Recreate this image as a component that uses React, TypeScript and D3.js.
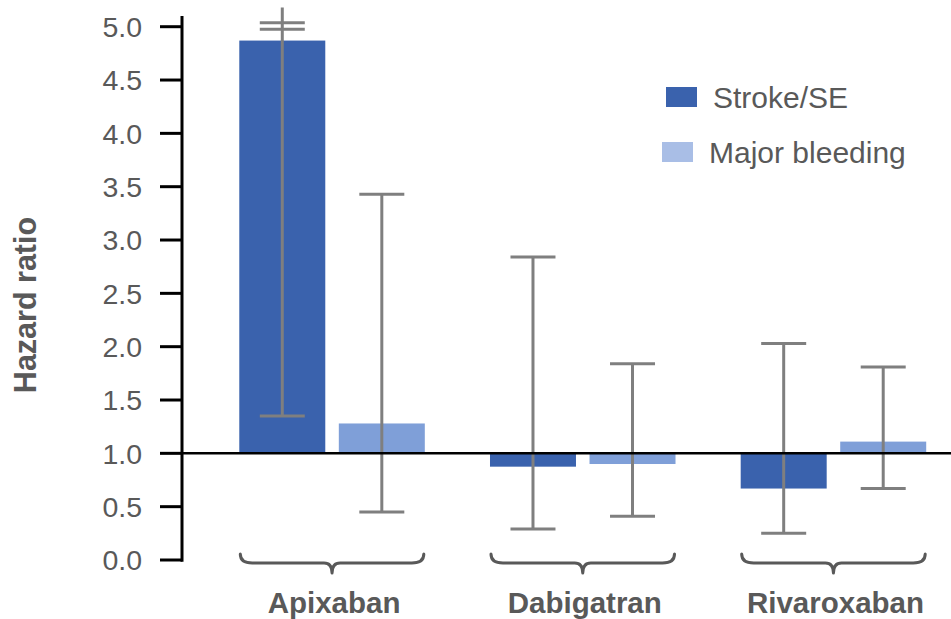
import React from "react";
import * as d3 from "d3";

const categories = ["Apixaban", "Dabigatran", "Rivaroxaban"];
const seriesNames = ["Stroke/SE", "Major bleeding"];
const strokeHR = [4.87, 0.875, 0.67];
const strokeLo = [1.35, 0.29, 0.25];
const strokeHi = [5.18, 2.84, 2.03];
const bleedHR = [1.28, 0.9, 1.11];
const bleedLo = [0.45, 0.41, 0.67];
const bleedHi = [3.43, 1.84, 1.81];
const truncatedHi = [true, false, false, false, false, false];
const yTicks = [0, 0.5, 1, 1.5, 2, 2.5, 3, 3.5, 4, 4.5, 5];
const reference = 1;
const breakAt = 5;

const W = 951;
const H = 619;
const barColors = ["#3a62ad", "#7f9fd8"];
const legendColors = ["#3a62ad", "#a9bee6"];
const textColor = "#595959";
const errColor = "#7f7f7f";
const font = "Arial, 'Liberation Sans', sans-serif";

export default function App() {
  const y = d3.scaleLinear().domain([0, 5]).range([560, 26.7]);
  const x0 = d3
    .scaleBand<string>()
    .domain(categories)
    .range([206.7, 958.8])
    .paddingInner(0.26)
    .paddingOuter(0.13);
  const x1 = d3
    .scaleBand<string>()
    .domain(seriesNames)
    .range([0, x0.bandwidth()])
    .paddingInner(0.136);

  const axisX = 182;
  const rows: { cat: string; s: string; hr: number; lo: number; hi: number; trunc: boolean; color: string }[] = [];
  categories.forEach((c, i) => {
    rows.push({ cat: c, s: seriesNames[0], hr: strokeHR[i], lo: strokeLo[i], hi: strokeHi[i], trunc: truncatedHi[i * 2], color: barColors[0] });
    rows.push({ cat: c, s: seriesNames[1], hr: bleedHR[i], lo: bleedLo[i], hi: bleedHi[i], trunc: truncatedHi[i * 2 + 1], color: barColors[1] });
  });
  const capHalf = 22.5;

  return (
    <svg width={W} height={H} style={{ position: "absolute", left: 0, top: 0, background: "#fff" }} fontFamily={font}>
      {/* bars */}
      {rows.map((r, i) => {
        const bx = (x0(r.cat) || 0) + (x1(r.s) || 0);
        const y1 = y(Math.max(r.hr, reference));
        const y2 = y(Math.min(r.hr, reference));
        return <rect key={"b" + i} x={bx} y={y1} width={x1.bandwidth()} height={y2 - y1} fill={r.color} />;
      })}
      {/* error bars */}
      {rows.map((r, i) => {
        const cx = (x0(r.cat) || 0) + (x1(r.s) || 0) + x1.bandwidth() / 2;
        return (
          <g key={"e" + i} stroke={errColor} strokeWidth={3}>
            <line x1={cx} x2={cx} y1={y(r.lo)} y2={y(r.hi)} />
            <line x1={cx - capHalf} x2={cx + capHalf} y1={y(r.lo)} y2={y(r.lo)} />
            {r.trunc ? (
              <>
                <line x1={cx - capHalf} x2={cx + capHalf} y1={y(breakAt) - 4} y2={y(breakAt) - 4} />
                <line x1={cx - capHalf} x2={cx + capHalf} y1={y(breakAt) + 2.6} y2={y(breakAt) + 2.6} />
              </>
            ) : (
              <line x1={cx - capHalf} x2={cx + capHalf} y1={y(r.hi)} y2={y(r.hi)} />
            )}
          </g>
        );
      })}
      {/* reference line */}
      <line x1={axisX} x2={W} y1={y(reference)} y2={y(reference)} stroke="#000" strokeWidth={2.5} />
      {/* y axis */}
      <line x1={axisX} x2={axisX} y1={y(0) + 1.7} y2={y(5.1)} stroke="#000" strokeWidth={3} />
      {yTicks.map((t) => (
        <g key={"t" + t}>
          <line x1={axisX - 22} x2={axisX} y1={y(t)} y2={y(t)} stroke="#000" strokeWidth={3} />
          <text x={axisX - 40} y={y(t)} dy="0.36em" textAnchor="end" fontSize={28.5} fill={textColor}>
            {d3.format(".1f")(t)}
          </text>
        </g>
      ))}
      <text
        transform={`translate(36,${305}) rotate(-90)`}
        textAnchor="middle"
        fontSize={30.5}
        fontWeight="bold"
        fill={textColor}
      >
        Hazard ratio
      </text>
      {/* braces & category labels */}
      {categories.map((c) => {
        const xs = (x0(c) || 0) + 1;
        const xe = (x0(c) || 0) + x0.bandwidth() - 1;
        const xm = (xs + xe) / 2;
        const yt = 554;
        const yl = 563;
        const yp = 573;
        const r = 8;
        const d = `M${xs},${yt} Q${xs},${yl} ${xs + r + 4},${yl} L${xm - 8},${yl} Q${xm},${yl} ${xm},${yp} Q${xm},${yl} ${xm + 8},${yl} L${xe - r - 4},${yl} Q${xe},${yl} ${xe},${yt}`;
        return (
          <g key={"c" + c}>
            <path d={d} fill="none" stroke={textColor} strokeWidth={3} strokeLinecap="round" strokeLinejoin="round" />
            <text x={xm + 2} y={613} textAnchor="middle" fontSize={29.5} fontWeight="bold" fill={textColor}>
              {c}
            </text>
          </g>
        );
      })}
      {/* legend */}
      {seriesNames.map((s, i) => (
        <g key={"l" + s} transform={`translate(${666 - i * 4},${87 + i * 55})`}>
          <rect x={0} y={0} width={31} height={20} fill={legendColors[i]} />
          <text x={47} y={20.5} fontSize={30} fill={textColor}>
            {s}
          </text>
        </g>
      ))}
    </svg>
  );
}
